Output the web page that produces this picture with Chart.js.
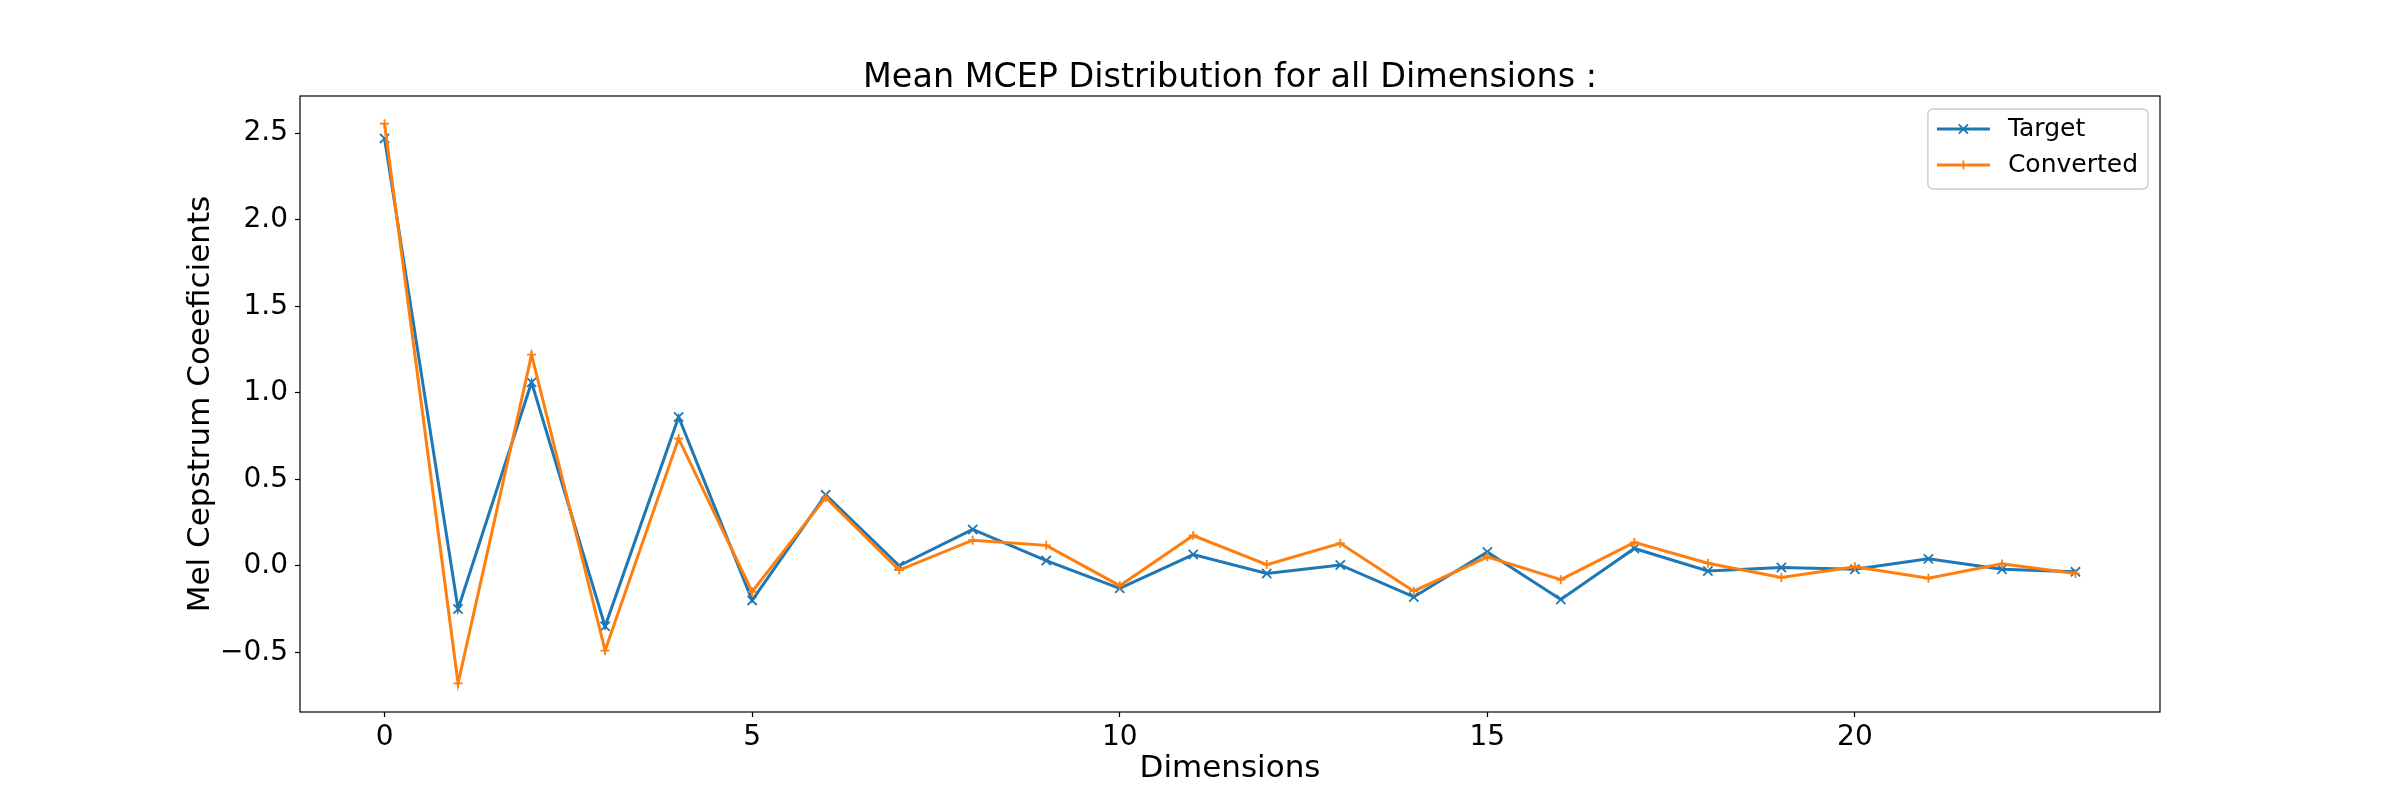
<!DOCTYPE html>
<html>
<head>
<meta charset="utf-8">
<title>Mean MCEP Distribution</title>
<script src="https://cdn.jsdelivr.net/npm/chart.js@4.4.1/dist/chart.umd.min.js"></script>
<style>
  html, body { margin: 0; padding: 0; background: #fff; }
  #wrap { width: 2400px; height: 800px; }
</style>
</head>
<body>
<div id="wrap"><canvas id="mcep" width="2400" height="800"></canvas></div>
<script>
// values
const dims = [0, 1, 2, 3, 4, 5, 6, 7, 8, 9, 10, 11, 12, 13, 14, 15, 16, 17, 18, 19, 20, 21, 22, 23];
const target = [2.47, -0.25, 1.06, -0.35, 0.86, -0.20, 0.41, 0.00, 0.21, 0.03, -0.13, 0.065,
  -0.045, 0.005, -0.18, 0.08, -0.195, 0.10, -0.03, -0.01, -0.02, 0.04, -0.02, -0.035];
const converted = [2.555, -0.68, 1.22, -0.49, 0.735, -0.15, 0.395, -0.025, 0.148, 0.118, -0.115, 0.175,
  0.007, 0.13, -0.147, 0.052, -0.08, 0.135, 0.015, -0.068, -0.006, -0.072, 0.011, -0.045];
const seriesNames = ['Target', 'Converted'];
const xTicks = [0, 5, 10, 15, 20];
const yTicks = [-0.5, 0, 0.5, 1, 1.5, 2, 2.5];
const titleText = 'Mean MCEP Distribution for all Dimensions :';
const xLabel = 'Dimensions';
const yLabel = 'Mel Cepstrum Coeeficients';

const FONT = '"DejaVu Sans"';
Chart.defaults.font.family = FONT;
Chart.defaults.color = '#000';

// small marker drawer, used for the legend handles
function marker(ctx, style, x, y, r) {
  ctx.beginPath();
  if (style === 'crossRot') {
    const d = r * Math.SQRT1_2;
    ctx.moveTo(x - d, y - d); ctx.lineTo(x + d, y + d);
    ctx.moveTo(x - d, y + d); ctx.lineTo(x + d, y - d);
  } else {
    ctx.moveTo(x - r, y); ctx.lineTo(x + r, y);
    ctx.moveTo(x, y - r); ctx.lineTo(x, y + r);
  }
  ctx.stroke();
}

// frame, title and a matplotlib-like legend inside the axes
const decor = {
  id: 'decor',
  afterDraw(chart) {
    const ctx = chart.ctx, ca = chart.chartArea;
    ctx.save();
    ctx.strokeStyle = '#000';
    ctx.lineWidth = 1.2;
    ctx.strokeRect(ca.left, ca.top, ca.right - ca.left, ca.bottom - ca.top);

    ctx.fillStyle = '#000';
    ctx.font = '33.4px ' + FONT;
    ctx.textAlign = 'center';
    ctx.textBaseline = 'alphabetic';
    ctx.fillText(titleText, (ca.left + ca.right) / 2, ca.top - 9);

    ctx.font = '25px ' + FONT;
    const sets = chart.data.datasets;
    const tw = Math.max(...sets.map(s => ctx.measureText(s.label).width));
    const pad = 9, handle = 53, gap = 18, rowH = 36;
    const w = pad + handle + gap + tw + 10;
    const h = 20 + rowH * (sets.length - 1) + 24;
    const bx = ca.right - 12 - w, by = ca.top + 13;
    ctx.beginPath();
    ctx.roundRect(bx, by, w, h, 5);
    ctx.fillStyle = 'rgba(255,255,255,0.8)';
    ctx.fill();
    ctx.strokeStyle = '#cccccc';
    ctx.lineWidth = 1.4;
    ctx.stroke();

    sets.forEach((s, i) => {
      const y = by + 20 + i * rowH;
      ctx.strokeStyle = s.borderColor;
      ctx.lineWidth = s.borderWidth;
      ctx.beginPath();
      ctx.moveTo(bx + pad, y);
      ctx.lineTo(bx + pad + handle, y);
      ctx.stroke();
      ctx.lineWidth = s.pointBorderWidth;
      marker(ctx, s.pointStyle, bx + pad + handle / 2, y, s.pointRadius);
      ctx.fillStyle = '#000';
      ctx.textAlign = 'left';
      ctx.textBaseline = 'middle';
      ctx.fillText(s.label, bx + pad + handle + gap, y);
    });
    ctx.restore();
  }
};

const toPoints = vals => dims.map((d, i) => ({ x: d, y: vals[i] }));

new Chart(document.getElementById('mcep'), {
  type: 'line',
  data: {
    datasets: [
      {
        label: seriesNames[0],
        data: toPoints(target),
        borderColor: '#1f77b4',
        backgroundColor: '#1f77b4',
        borderWidth: 3,
        pointStyle: 'crossRot',
        pointRadius: 6.5,
        pointBorderWidth: 1.8,
        tension: 0,
        order: 1
      },
      {
        label: seriesNames[1],
        data: toPoints(converted),
        borderColor: '#ff7f0e',
        backgroundColor: '#ff7f0e',
        borderWidth: 3,
        pointStyle: 'cross',
        pointRadius: 4.5,
        pointBorderWidth: 1.8,
        tension: 0,
        order: 0
      }
    ]
  },
  options: {
    responsive: false,
    animation: false,
    devicePixelRatio: 1,
    layout: { padding: { left: 150, top: 96, right: 240, bottom: 0 } },
    plugins: {
      legend: { display: false },
      title: { display: false },
      tooltip: { enabled: false }
    },
    scales: {
      x: {
        type: 'linear',
        min: -1.15,
        max: 24.15,
        afterBuildTicks: s => { s.ticks = xTicks.map(v => ({ value: v })); },
        afterFit: s => { s.height = 88; },
        grid: { drawOnChartArea: false, drawTicks: true, tickLength: 5, tickColor: '#000', tickWidth: 1.2 },
        border: { display: false },
        ticks: { font: { size: 28 }, color: '#000', padding: 4, maxRotation: 0, autoSkip: false,
          callback: v => String(v) },
        title: { display: true, text: xLabel, font: { size: 31 }, color: '#000', padding: { top: 0, bottom: 12 } }
      },
      y: {
        min: -0.845,
        max: 2.715,
        afterBuildTicks: s => { s.ticks = yTicks.map(v => ({ value: v })); },
        afterFit: s => { s.width = 150; },
        grid: { drawOnChartArea: false, drawTicks: true, tickLength: 5, tickColor: '#000', tickWidth: 1.2 },
        border: { display: false },
        ticks: { font: { size: 28 }, color: '#000', padding: 7,
          callback: v => v.toFixed(1).replace('-', '\u2212') },
        title: { display: true, text: yLabel, font: { size: 31 }, color: '#000', padding: { top: 32, bottom: 0 } }
      }
    }
  },
  plugins: [decor]
});
</script>
</body>
</html>
